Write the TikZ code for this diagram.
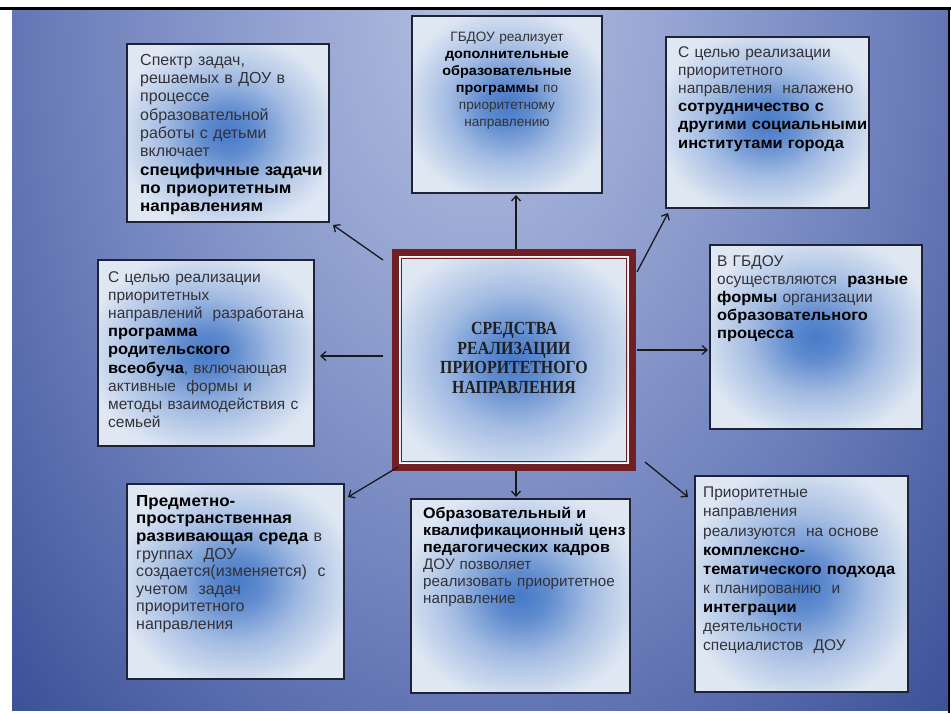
\documentclass[tikz,border=0pt]{standalone}
\usepackage{fontspec}
\setmainfont[BoldFeatures={FakeStretch=1.06}]{Liberation Sans}
\newfontfamily\titlefont[FakeStretch=0.86]{Liberation Serif}
\usetikzlibrary{arrows.meta}

\definecolor{bgA}{RGB}{180,192,225}
\definecolor{bgB}{RGB}{150,165,210}
\definecolor{bgC}{RGB}{110,128,188}
\definecolor{bgD}{RGB}{65,85,155}
\definecolor{bgE}{RGB}{30,48,118}
\definecolor{bgF}{RGB}{15,30,95}
\definecolor{pale}{RGB}{223,231,243}
\definecolor{glow}{RGB}{72,122,200}
\definecolor{maroon}{RGB}{112,32,36}
\definecolor{panelline}{RGB}{30,34,55}
\definecolor{textgray}{RGB}{50,50,56}

\pgfdeclareradialshading{slidebg}{\pgfpoint{0bp}{0bp}}{%
  color(0bp)=(bgA); color(10bp)=(bgB); color(22bp)=(bgC);
  color(34bp)=(bgD); color(48bp)=(bgE); color(60bp)=(bgF); color(110bp)=(bgF)}
\pgfdeclareradialshading{boxglow}{\pgfpoint{0bp}{0bp}}{%
  color(0bp)=(glow); color(6bp)=(glow!85!pale); color(16bp)=(glow!38!pale);
  color(28bp)=(pale); color(80bp)=(pale)}

\newcommand{\keyw}[1]{\textbf{\color{black}#1}}

\tikzset{
  panel/.style 2 args={draw=panelline, line width=1.1pt, shading=boxglow,
    anchor=north west, inner sep=0pt, outer sep=0pt,
    minimum width=#1, minimum height=#2},
  blurb/.style={anchor=north west, inner sep=0pt, text width=#1, align=left,
    text=textgray, font=\fontsize{15.5}{18.2}\selectfont},
  link/.style={line width=1.3pt, black!90},
  >={Straight Barb[length=5pt,width=9pt]}
}

\begin{document}
\begin{tikzpicture}[x=1pt,y=-1pt]
\useasboundingbox (0,0) rectangle (951,713);

% slide
\begin{scope}
\clip (12,10) rectangle (948,713);
\shade[shading=slidebg] (12,-690) rectangle (948,710);
\end{scope}
\draw[line width=3pt] [-] (0,8.5) -- (951,8.5);
\draw[line width=2pt] [-] (949,8.5) -- (949,713);

% the centre
\node[draw=maroon, line width=7pt, shading=boxglow, inner sep=0pt, outer sep=0pt,
      minimum width=237, minimum height=215] (c) at (514,360) {};
\draw[white, line width=1pt] ([shift={(4,4)}]c.north west) rectangle ([shift={(-4,-4)}]c.south east);
\draw[maroon, line width=1.5pt] ([shift={(6,6)}]c.north west) rectangle ([shift={(-6,-6)}]c.south east);
\node[font={\titlefont\bfseries\fontsize{18.5}{19.7}\selectfont}, text=black!88, align=center,
      inner sep=0pt] (title) at (514,358) {СРЕДСТВА\\РЕАЛИЗАЦИИ\\ПРИОРИТЕТНОГО\\НАПРАВЛЕНИЯ};

% boxes
\node[panel={202}{178}] (b1) at (127,44) {};
\node[panel={190}{177}] (b2) at (412,16) {};
\node[panel={203}{171}] (b3) at (666,37) {};
\node[panel={216}{186}] (b4) at (98,260) {};
\node[panel={212}{184}] (b6) at (710,245) {};
\node[panel={217}{195}] (b7) at (127,484) {};
\node[panel={219}{194}] (b8) at (411,499) {};
\node[panel={213}{216}] (b9) at (695,476) {};

% texts
\node[blurb=220, font=\fontsize{16}{18.3}\selectfont] (t1) at (140,54) {Спектр задач,\\решаемых в ДОУ в\\процессе\\образовательной\\работы с детьми\\включает\\\keyw{специфичные задачи}\\\keyw{по приоритетным}\\\keyw{направлениям}};
\node[blurb=185, anchor=north, align=center, font=\fontsize{13.6}{17}\selectfont] (t2) at (507,32) {ГБДОУ реализует\\\keyw{дополнительные}\\\keyw{образовательные}\\\keyw{программы} по\\приоритетному\\направлению};
\node[blurb=220] (t3) at (678,46) {С целью реализации\\приоритетного\\направления\ \ налажено\\\keyw{сотрудничество с}\\\keyw{другими социальными}\\\keyw{институтами города}};
\node[blurb=220] (t4) at (108,271) {С целью реализации\\приоритетных\\направлений\ \ разработана\\\keyw{программа}\\\keyw{родительского}\\\keyw{всеобуча}, включающая\\активные\ \ формы и\\методы взаимодействия с\\семьей};
\node[blurb=220] (t6) at (717,255) {В ГБДОУ\\осуществляются\ \ \keyw{разные}\\\keyw{формы} организации\\\keyw{образовательного}\\\keyw{процесса}};
\node[blurb=220, font=\fontsize{16}{17.6}\selectfont] (t7) at (136,495) {\keyw{Предметно-}\\\keyw{пространственная}\\\keyw{развивающая среда} в\\группах\ \ ДОУ\\создается(изменяется)\ \ с\\учетом\ \ задач\\приоритетного\\направления};
\node[blurb=220, font=\fontsize{15.2}{17}\selectfont] (t8) at (423,507) {\keyw{Образовательный и}\\\keyw{квалификационный ценз}\\\keyw{педагогических кадров}\\ДОУ позволяет\\реализовать приоритетное\\направление};
\node[blurb=220, font=\fontsize{15.5}{19.1}\selectfont] (t9) at (703,487) {Приоритетные\\направления\\реализуются\ \ на основе\\\keyw{комплексно-}\\\keyw{тематического подхода}\\к планированию\ \ и\\\keyw{интеграции}\\деятельности\\специалистов\ \ ДОУ};

% arrows out of the centre
\draw[link] [->] ([shift={(-12.5,7.5)}]c.north west) -- ([shift={(4,3)}]b1.south east);
\draw[link] [->] ([shift={(2,-3.5)}]c.north) -- ([shift={(9,2)}]b2.south);
\draw[link] [->] ([shift={(4.5,19.5)}]c.north east) -- ([shift={(2,5)}]b3.south west);
\draw[link] [->] ([shift={(-12.5,-4)}]c.west) -- ([shift={(6,3)}]b4.east);
\draw[link] [->] ([shift={(4.5,-10)}]c.east) -- ([shift={(-2,13)}]b6.west);
\draw[link] [->] ([shift={(2.5,-0.5)}]c.south west) -- ([shift={(4,13)}]b7.north east);
\draw[link] [->] ([shift={(2,3.5)}]c.south) -- ([shift={(-4.5,-2)}]b8.north);
\draw[link] [->] ([shift={(12.5,-5.5)}]c.south east) -- ([shift={(-7,21)}]b9.north west);

\end{tikzpicture}
\end{document}
